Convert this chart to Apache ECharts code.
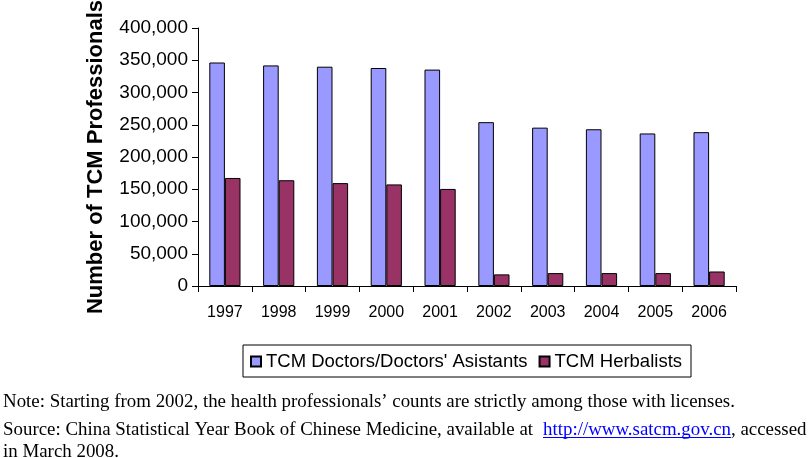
<!DOCTYPE html>
<html>
<head>
<meta charset="utf-8">
<script src="https://cdn.jsdelivr.net/npm/echarts@6/dist/echarts.min.js"></script>
<style>html,body{margin:0;padding:0;background:#fff}#c{width:809px;height:458px}</style>
</head>
<body>
<div id="c"></div>
<script>
const years = ['1997','1998','1999','2000','2001','2002','2003','2004','2005','2006'];
const doctors = [346500, 342000, 340000, 338000, 335500, 254000, 245500, 243000, 236500, 238500];
const herbalists = [167500, 164000, 159500, 157500, 150500, 18000, 20000, 20000, 20000, 22500];
const yTicks = [0, 50000, 100000, 150000, 200000, 250000, 300000, 350000, 400000];
const seriesNames = ["TCM Doctors/Doctors' Asistants", 'TCM Herbalists'];

const chart = echarts.init(document.getElementById('c'), null, {renderer: 'canvas'});
const sans = 'Liberation Sans, Arial, sans-serif';
const serif = 'Liberation Serif, Times New Roman, serif';
const noteFont = '18.9px ' + serif;
chart.setOption({
  animation: false,
  backgroundColor: '#ffffff',
  grid: {left: 198, right: 73, top: 28, bottom: 172, containLabel: false, outerBoundsMode: 'none'},
  legend: {
    left: 243, top: 345,
    itemWidth: 10, itemHeight: 10, itemGap: 11,
    padding: [7, 9, 6, 7],
    borderColor: '#000', borderWidth: 1,
    textStyle: {fontFamily: sans, fontSize: 18.5, color: '#000'},
    icon: 'rect',
    data: seriesNames
  },
  xAxis: {
    type: 'category', data: years,
    axisLine: {lineStyle: {color: '#000', width: 1}},
    axisTick: {show: true, length: 6, alignWithLabel: false, lineStyle: {color: '#000'}},
    axisLabel: {fontFamily: sans, fontSize: 16, color: '#000', margin: 19}
  },
  yAxis: {
    type: 'value', min: yTicks[0], max: yTicks[yTicks.length - 1], interval: yTicks[1] - yTicks[0],
    name: 'Number of TCM Professionals', nameLocation: 'middle', nameGap: 91, nameRotate: 90,
    nameTextStyle: {fontFamily: sans, fontSize: 22, fontWeight: 'bold', color: '#000'},
    axisLine: {show: true, lineStyle: {color: '#000', width: 1}},
    axisTick: {show: true, length: 6, lineStyle: {color: '#000'}},
    splitLine: {show: false},
    axisLabel: {fontFamily: sans, fontSize: 19, color: '#000', margin: 10,
      formatter: v => v.toLocaleString('en-US')}
  },
  series: [
    {name: seriesNames[0], type: 'bar', data: doctors, barGap: '0%', barCategoryGap: '42%',
     itemStyle: {color: '#9999FF', borderColor: '#000', borderWidth: 1}},
    {name: seriesNames[1], type: 'bar', data: herbalists, barGap: '0%', barCategoryGap: '42%',
     itemStyle: {color: '#993366', borderColor: '#000', borderWidth: 1}}
  ],
  graphic: [
    {type: 'text', left: 3, top: 392.5, style: {text: 'Note: Starting from 2002, the health professionals\u2019 counts are strictly among those with licenses.', font: noteFont, fill: '#000'}},
    {type: 'text', left: 3, top: 420.5, style: {text: 'Source: China Statistical Year Book of Chinese Medicine, available at', font: noteFont, fill: '#000'}},
    {type: 'text', left: 543, top: 420.5, style: {text: 'http://www.satcm.gov.cn', font: noteFont, fill: '#0000FF'}},
    {type: 'line', shape: {x1: 543, y1: 437.5, x2: 731, y2: 437.5}, style: {stroke: '#0000FF', lineWidth: 1}},
    {type: 'text', left: 731, top: 420.5, style: {text: ', accessed', font: noteFont, fill: '#000'}},
    {type: 'text', left: 3, top: 442.3, style: {text: 'in March 2008.', font: noteFont, fill: '#000'}}
  ]
});
</script>
</body>
</html>
